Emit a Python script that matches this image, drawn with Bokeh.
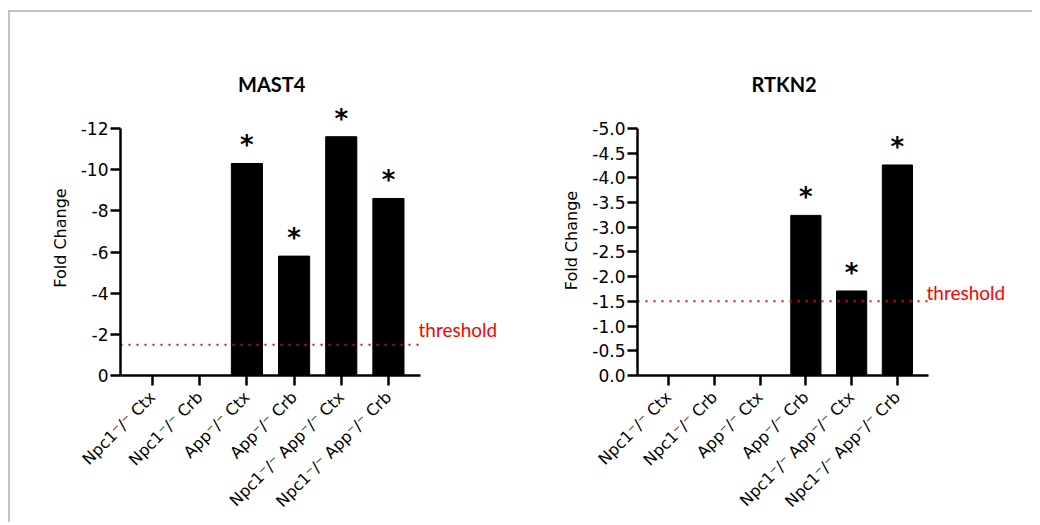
import math
from bokeh.plotting import figure
from bokeh.layouts import row
from bokeh.models import Range1d, FixedTicker, Label, ColumnDataSource
from bokeh.core.properties import value
from bokeh.embed import file_html
from bokeh.resources import INLINE

# ---------------- data ----------------
categories = ["Npc1\u207b/\u207b Ctx", "Npc1\u207b/\u207b Crb", "App\u207b/\u207b Ctx",
              "App\u207b/\u207b Crb", "Npc1\u207b/\u207b App\u207b/\u207b Ctx",
              "Npc1\u207b/\u207b App\u207b/\u207b Crb"]
mast4_fold = [0, 0, -10.3, -5.8, -11.6, -8.6]
mast4_sig = ["", "", "*", "*", "*", "*"]
rtkn2_fold = [0, 0, 0, -3.24, -1.71, -4.26]
rtkn2_sig = ["", "", "", "*", "*", "*"]
threshold_value = -1.5
mast4_yticks = [0, -2, -4, -6, -8, -10, -12]
mast4_ytick_labels = ["0", "-2", "-4", "-6", "-8", "-10", "-12"]
rtkn2_yticks = [0, -0.5, -1.0, -1.5, -2.0, -2.5, -3.0, -3.5, -4.0, -4.5, -5.0]
rtkn2_ytick_labels = ["0.0", "-0.5", "-1.0", "-1.5", "-2.0", "-2.5", "-3.0",
                      "-3.5", "-4.0", "-4.5", "-5.0"]

AX_FONT = "DejaVu Sans"
CAL_FONT = "Lato"
X_PAD = 0.68


def make_chart(title, title_w, folds, sig, yticks, ylabels, ymax, ylab,
               width, height, mb_left, mb_right, mb_top, mb_bottom, axis_w, axis_h,
               thr_label_dy):
    n = len(categories)
    idx = list(range(n))
    x0 = -X_PAD
    x1 = n - 1 + X_PAD
    frame_w = width - mb_left - mb_right
    frame_h = height - mb_top - mb_bottom
    # frame is a bit larger than the axes (room for annotations), same scale
    x_end = x0 + (x1 - x0) * frame_w / axis_w
    y_end = ymax * frame_h / axis_h

    src = ColumnDataSource(dict(x=idx, top=folds, sig=sig))
    p = figure(width=width, height=height, output_backend="svg", toolbar_location=None,
               x_range=Range1d(x0, x_end), y_range=Range1d(0, y_end),
               min_border_left=mb_left, min_border_right=mb_right,
               min_border_top=mb_top, min_border_bottom=mb_bottom)
    p.outline_line_color = None
    p.grid.visible = False
    p.background_fill_color = "white"
    p.border_fill_color = "white"

    p.title.text = title
    p.title.align = "left"
    p.title.offset = (axis_w - title_w) / 2
    p.title.text_font = CAL_FONT
    p.title.text_font_size = "20px"
    p.title.text_font_style = "bold"
    p.title.text_color = "black"
    p.title.standoff = 9

    p.vbar(x="x", top="top", bottom=0, width=0.66, source=src,
           fill_color="black", line_color="black")

    p.text(x="x", y="top", text="sig", source=src, text_align="center",
           text_baseline="alphabetic", y_offset=-18,
           text_font=value(AX_FONT), text_font_style="bold",
           text_font_size="26px", text_color="black")

    p.segment(x0=[x0], x1=[x1], y0=[threshold_value], y1=[threshold_value],
              line_color="#ff0000", line_dash="2 6", line_width=2)
    p.add_layout(Label(x=x1, y=threshold_value, text="threshold",
                       text_color="#ff0000", text_font=CAL_FONT, text_font_size="19px",
                       text_baseline="alphabetic", x_offset=-2, y_offset=thr_label_dy))

    for ax in (p.xaxis[0], p.yaxis[0]):
        ax.axis_line_width = 2.5
        ax.axis_line_color = "black"
        ax.major_tick_line_width = 2.5
        ax.major_tick_line_color = "black"
        ax.major_tick_in = 0
        ax.major_tick_out = 10
        ax.minor_tick_line_color = None
        ax.major_label_text_font = AX_FONT
        ax.major_label_text_font_size = "17px"
        ax.major_label_text_color = "black"

    p.xaxis.bounds = (x0, x1)
    p.xaxis.ticker = FixedTicker(ticks=idx)
    p.xaxis.major_label_overrides = {i: c for i, c in zip(idx, categories)}
    p.xaxis.major_label_orientation = math.pi / 4
    p.xaxis.major_label_text_font_size = "16px"
    p.xaxis.major_label_standoff = 9

    p.yaxis.bounds = (ymax, 0)
    p.yaxis.ticker = FixedTicker(ticks=yticks)
    p.yaxis.major_label_overrides = {t: l for t, l in zip(yticks, ylabels)}
    p.yaxis.major_label_standoff = 2
    p.yaxis.axis_label = ylab
    p.yaxis.axis_label_text_font = AX_FONT
    p.yaxis.axis_label_text_font_size = "16px"
    p.yaxis.axis_label_text_font_style = "normal"
    p.yaxis.axis_label_text_color = "black"
    p.yaxis.axis_label_standoff = 8
    return p


p1 = make_chart("MAST4", 65, mast4_fold, mast4_sig, mast4_yticks, mast4_ytick_labels, -12,
                "Fold Change", 512, 510, 110, 17, 88, 147, 300, 247, 15)
p2 = make_chart("RTKN2", 63, rtkn2_fold, rtkn2_sig, rtkn2_yticks, rtkn2_ytick_labels, -5,
                "Fold  Change", 510, 510, 115, 17, 88, 146, 291, 248, 9)

layout = row(p1, p2, styles={"border-left": "2px solid #c4c4c4",
                             "border-top": "2px solid #c4c4c4",
                             "margin-top": "10px", "margin-left": "8px"})

open("out.html", "w").write(file_html(layout, INLINE))
